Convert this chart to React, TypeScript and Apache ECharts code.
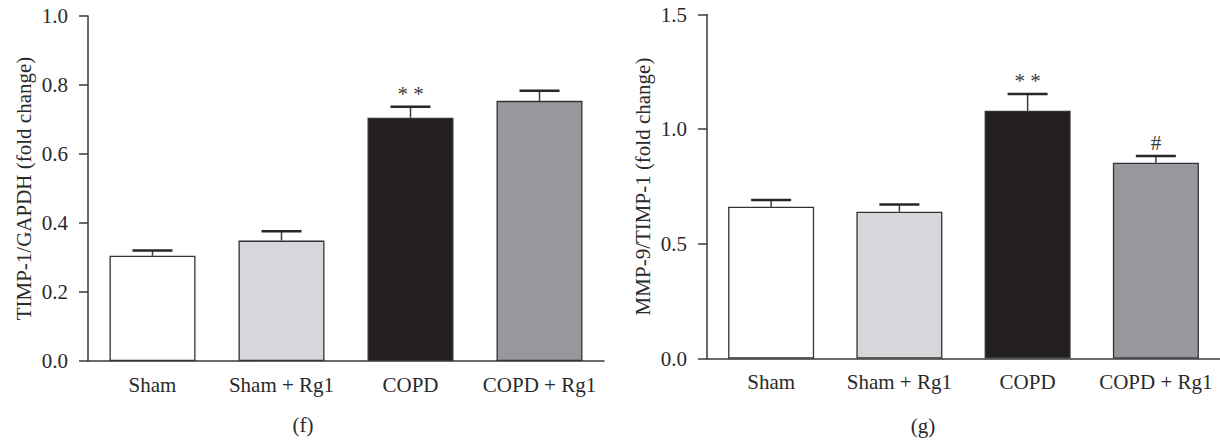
import React, { useEffect, useRef } from "react";
import * as echarts from "echarts";

const categories = ["Sham", "Sham + Rg1", "COPD", "COPD + Rg1"];

// Panel (f): TIMP-1/GAPDH
const timpMeans = [0.305, 0.349, 0.705, 0.754];
const timpUpper = [0.32, 0.376, 0.737, 0.783];
const timpMarks = ["", "", "* *", ""];

// Panel (g): MMP-9/TIMP-1
const mmpMeans = [0.662, 0.64, 1.08, 0.854];
const mmpUpper = [0.691, 0.671, 1.153, 0.883];
const mmpMarks = ["", "", "* *", "#"];

const barColors = ["#ffffff", "#d6d7da", "#231f20", "#96989e"];

const FONT = "Liberation Serif, Times New Roman, serif";
const TEXT = "#2a2a2a";
const AXIS = "#3a3a3a";

function errSeries(xi: number, means: number[], upper: number[], marks: string[]) {
  return {
    type: "custom",
    xAxisIndex: xi,
    yAxisIndex: xi,
    z: 5,
    data: means.map((m, i) => [i, m, upper[i]]),
    renderItem: (params: any, api: any) => {
      const idx = api.value(0);
      const mean = api.value(1);
      const up = api.value(2);
      const mark = marks[params.dataIndex];
      const p0 = api.coord([idx, mean]);
      const p1 = api.coord([idx, up]);
      const half = 20;
      return {
        type: "group",
        children: [
          {
            type: "line",
            shape: { x1: p0[0], y1: p0[1], x2: p1[0], y2: p1[1] },
            style: { stroke: AXIS, lineWidth: 1.5 },
          },
          {
            type: "line",
            shape: { x1: p1[0] - half, y1: p1[1], x2: p1[0] + half, y2: p1[1] },
            style: { stroke: "#262626", lineWidth: 2.5 },
          },
          {
            type: "text",
            x: p1[0],
            y: p1[1] - 13,
            style: {
              text: mark,
              align: "center",
              verticalAlign: "middle",
              fontFamily: FONT,
              fontSize: 21,
              fill: "#3a3a3a",
            },
          },
        ],
      };
    },
  };
}

function barSeries(xi: number, means: number[]) {
  return {
    type: "bar",
    xAxisIndex: xi,
    yAxisIndex: xi,
    barWidth: 86,
    data: means.map((v, i) => ({
      value: v,
      itemStyle: { color: barColors[i], borderColor: "#333", borderWidth: 1.3 },
    })),
  };
}

function xAxis(gi: number) {
  return {
    type: "category",
    gridIndex: gi,
    data: categories,
    axisLine: { lineStyle: { color: AXIS, width: 1.5 } },
    axisTick: { alignWithLabel: true, length: 9, lineStyle: { color: AXIS, width: 1.5 } },
    axisLabel: { color: TEXT, fontFamily: FONT, fontSize: 21, margin: 13, interval: 0 },
  };
}

function yAxis(gi: number, max: number, interval: number, name: string) {
  return {
    type: "value",
    gridIndex: gi,
    min: 0,
    max,
    interval,
    name,
    nameLocation: "middle",
    nameGap: 54,
    nameTextStyle: { color: TEXT, fontFamily: FONT, fontSize: 21 },
    splitLine: { show: false },
    axisLine: { show: true, lineStyle: { color: AXIS, width: 1.5 } },
    axisTick: { show: true, length: 9, lineStyle: { color: AXIS, width: 1.5 } },
    axisLabel: {
      color: TEXT,
      fontFamily: FONT,
      fontSize: 21,
      margin: 20,
      formatter: (v: number) => v.toFixed(1),
    },
  };
}

export default function App() {
  const ref = useRef<HTMLDivElement>(null);
  useEffect(() => {
    if (!ref.current) return;
    const chart = echarts.init(ref.current, null, { renderer: "svg" });
    chart.setOption({
      animation: false,
      backgroundColor: "#ffffff",
      grid: [
        { left: 88, top: 16, width: 516, height: 345 },
        { left: 707, top: 14.5, width: 516, height: 344 },
      ],
      xAxis: [xAxis(0), xAxis(1)],
      yAxis: [
        yAxis(0, 1.0, 0.2, "TIMP-1/GAPDH (fold change)"),
        yAxis(1, 1.5, 0.5, "MMP-9/TIMP-1 (fold change)"),
      ],
      series: [
        barSeries(0, timpMeans),
        errSeries(0, timpMeans, timpUpper, timpMarks),
        barSeries(1, mmpMeans),
        errSeries(1, mmpMeans, mmpUpper, mmpMarks),
      ],
      graphic: [
        {
          type: "text",
          x: 303,
          y: 425,
          style: { text: "(f)", align: "center", verticalAlign: "middle", fontFamily: FONT, fontSize: 21, fill: TEXT },
        },
        {
          type: "text",
          x: 923,
          y: 426,
          style: { text: "(g)", align: "center", verticalAlign: "middle", fontFamily: FONT, fontSize: 21, fill: TEXT },
        },
      ],
    });
    return () => chart.dispose();
  }, []);
  return (
    <div
      ref={ref}
      style={{ position: "fixed", left: 0, top: 0, width: 1220, height: 441, background: "#fff" }}
    />
  );
}
